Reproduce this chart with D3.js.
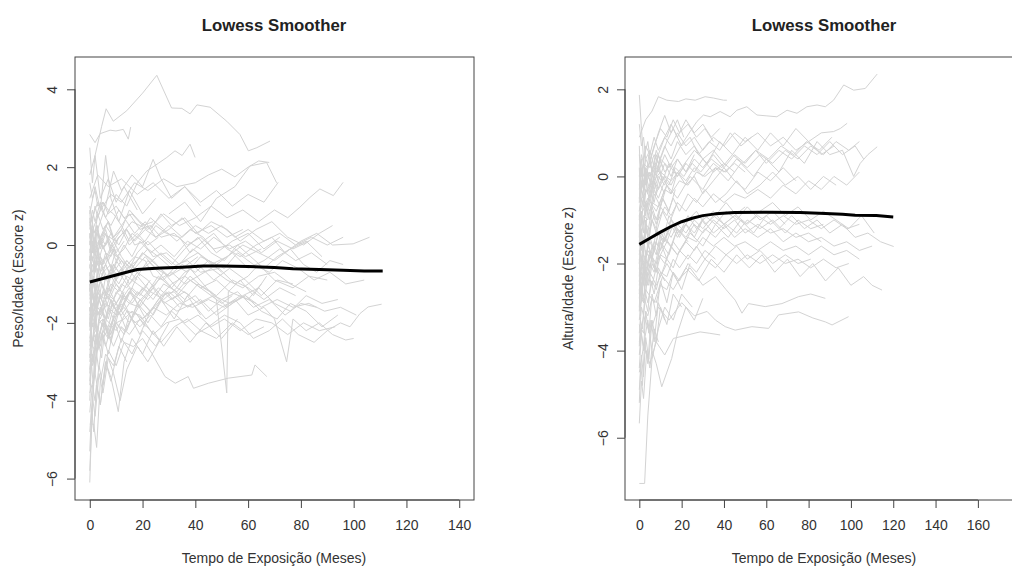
<!DOCTYPE html>
<html><head><meta charset="utf-8">
<script src="https://cdn.jsdelivr.net/npm/d3@7"></script>
<style>
html,body{margin:0;padding:0;background:#fff;}
svg{display:block;font-family:"Liberation Sans",Arial,sans-serif;}
</style></head>
<body>
<svg id="chart" width="1012" height="567"></svg>
<script>
// ---------- DATA ----------
// Each subject: flat list [month, z, month, z, ...]
const pesoSubjects = [
[0,1.8,2,2.3,4.5,3.05,6.2,3.5,8.9,3.18,14,3.45,20,3.9,25.4,4.36,31,3.52,34.9,3.51,38,3.37,40.6,3.6,45.6,3.54,51.9,3.18,56.9,2.84,60.1,2.42,63.3,2.5,68.3,2.67],
[0,2.84,2,2.63,3.9,2.86,7.7,2.95,9.9,2.93,12.7,2.97,14.6,2.72,15.5,3.03],
[0,0.5,3,1.1,6,0.7,10,1.3,14,1.0,18,1.6,21.6,1.9,26,2.1,29.2,2.25,32.3,2.42,35,2.3,38,2.59,39.9,2.25],
[0,0.2,4,0.9,8,1.3,12,1.1,17,1.6,22,1.4,28,1.7,33,1.5,40,1.6,45,1.8,50,1.95,55,1.75,60,2.0,64,2.16,68,2.12],
[0,-0.3,5,0.3,10,0.1,16,0.6,22,0.4,28,0.8,34,0.5,40,0.7,46,1.0,52,0.7,58,0.9,64,0.6,70,0.9,75,0.7,79.6,0.97,83.4,1.22,87.2,1.44,92.3,1.27,96,1.61],
[0,2.5,1,1.6,2,2.3,4,1.2,7,1.7,10,1.1,13,1.5,18,0.9],
[0,0.8,2,1.5,4,0.9,6,2.3,8,1.2,11,0.6,15,1.4,20,0.8,25,1.2],
[0,-0.4,3,0.4,6,1.0,9,1.9,12,1.4,16,1.8,20,1.5,24,2.2,27,1.7,31,1.2,36,1.5,42,1.0],
[0,1.2,3,1.8,7,1.5,12,1.7,18,1.3,24,1.6,30,1.2,36,1.5,42,1.1,48,1.4,54,1.0,60,1.3,66,1.1,71.4,1.61],
[30,0.8,36,1.1,42,0.6,48,1.2,55,1.5,60.7,2.03,67,2.12,70.8,1.6],
[0,-0.5,1,-1.1,2.5,-0.4,4,0.1,6,-0.2,8,-0.3,11,0.2,14,0.4,17,0.0,21,0.1,25,0.5,29,0.3,34,0.2,38,-0.2,43,0.1,47,0.3,52,-0.1,57,-0.3,63,0.0,69,0.2,74,-0.2,80,0.1,86,0.3,92,0.0,99.8,0.03,106,0.2],
[0,-1.5,1.5,-1.0,3,-1.2,5,-0.7,8,-0.5,10,-0.9,13,-0.6,17,-0.3,21,-0.4,24,-0.8,28,-0.9,33,-0.5,37,-0.4,42,-0.7,49,-0.6,55,-1.0,60,-0.8,64,-0.5,70,-0.9,77,-1.1,83,-0.8,90,-0.9],
[0,-2.5,1,-1.9,2,-1.6,4,-1.8,6,-1.2,9,-1.4,12,-1.0,14,-1.1,18,-0.7,22,-0.9,27,-1.3,31,-1.0,36,-0.8,42,-1.1,48,-0.9,53,-1.2,60,-1.4,65,-1.0],
[0,-3.2,1,-2.6,2,-2.7,3.5,-2.0,5,-1.9,7,-2.3,10,-1.6,13,-1.5,16,-1.9,20,-1.4,24,-1.1,28,-1.5,33,-1.3,38,-0.9,44,-1.2,50,-1.5,54,-1.3],
[0,0.6,1,0.3,3,0.4,5,-0.1,7,0.1,10,-0.3,13,-0.1,16,0.3,20,0.1,24,-0.3,29,-0.2,34,-0.5,39,-0.1,45,-0.4,51,-0.6,56,-0.2,62,-0.5,68,-0.7,73,-0.4,79,-0.6,85,-0.9,91,-0.7,97,-1.0,104,-0.9],
[0,-1.0,2,-1.6,3.5,-1.4,6,-1.9,9,-1.5,12,-1.6,15,-1.2,19,-1.4,23,-1.7,27,-1.3,32,-1.2,37,-1.6,42,-1.4,48,-1.8,54,-1.5,59,-1.3,65,-1.7,71,-1.9,76,-1.5,82,-1.7,88,-2.1,94,-1.8],
[0,-5.8,0.8,-4.5,1.6,-3.2,3,-2.5,5,-1.9,8,-2.3,11,-1.6,15,-2.0,19,-1.4,24,-1.8,29,-1.2,34,-1.6],
[0,-6.1,0.5,-5.0,1.2,-3.8,2.5,-2.9,4,-2.2,6,-2.6,9,-1.9,13,-2.3,17,-1.7,21,-2.1],
[0,-4.6,1.5,-4.6,2.6,-5.2,4,-3.5,6,-2.8,9,-3.1,12,-2.4,16,-2.8,20,-2.2,25,-2.6,30,-2.0],
[0,-3.8,2,-3.3,4,-4.1,6,-3.0,8,-3.4,10.8,-4.28,13,-3.0,16,-2.4,20,-2.8,24,-2.2,28,-2.6,33,-2.1,38,-2.5,44,-2.0,50,-2.4,56,-1.9],
[0,-4.3,1,-3.6,2,-4.0,3.5,-3.1,5,-3.6,7,-2.7,10,-3.1,13,-2.5,16.5,-2.61,20,-2.4,23.5,-2.78,28.5,-3.38,32.4,-3.55,37.3,-3.38,39.3,-3.68,45,-3.55,52.5,-3.42,61.4,-3.34,62.6,-3.08,67.1,-3.38],
[0,-1.8,3,-1.2,6,-1.6,10,-1.0,14,-1.4,18,-0.8,23,-1.2,28,-0.7,33,-1.1,38,-0.6,43,-1.0,48,-1.4,51.9,-3.8,52.5,-1.2,57,-0.9,62,-1.3,67,-0.8],
[0,-2.0,3,-1.6,6,-1.9,10,-2.2,14,-1.7,19,-1.8,24,-2.3,29,-2.0,34,-1.9,40,-2.3,45,-2.1,51,-1.8,57,-2.0,62,-2.4,68,-2.2,73,-1.9,79,-2.3,85,-2.5,90,-2.2,95,-2.0,98.6,-2.1,102.4,-1.76,105.5,-1.59,110.6,-1.52],
[0,-2.7,2,-2.2,5,-2.4,9,-1.9,13,-1.6,17,-2.0,22,-1.8,27,-1.4,33,-1.7,39,-1.5,44,-1.9,50,-1.6,55,-1.4,60,-1.8,66,-1.6,70,-1.9,74.6,-3.0,77,-1.9,82,-2.2,87,-2.0,92,-2.3,97,-2.44,100,-2.4],
[0,-0.2,1,0.3,2,-0.3,4,0.2,6,0.5,9,0.2,12,0.4,15,0.9,19,0.6,23,0.4,27,0.8,31,0.5,36,0.7,41,0.3,46,0.6,52,0.4,57,0.1,63,0.4,69,0.6,75,0.2,81,0.0,87,0.3,92,0.5],
[0,0.3,1,-0.2,2.5,0.0,4,-0.5,6,-0.3,9,-0.7,12,-0.4,16,-0.6,20,-0.2,25,-0.5,30,-0.8,35,-0.6,41,-0.3],
[0,-1.3,1,-0.9,2,-1.2,4,-0.7,6,-0.9,9,-0.5,12,-0.8,16,-0.6,20,-0.2,24,-0.4,28,-0.7],
[0,-2.2,1,-1.6,2,-1.8,4,-1.3,6,-1.4,8,-1.0,11,-1.2,14,-0.8,18,-1.0,22,-1.2,26,-0.9,31,-0.7,36,-1.0,41,-0.8,46,-0.6,52,-0.9,58,-1.1,64,-0.8,70,-0.7,76,-1.0,82,-1.2],
[0,0.1,1,-0.4,2,-0.2,4,-0.7,6,-0.5,8,-0.8,11,-0.3,14,-0.6,18,-0.4,22,-0.1,26,-0.3,31,-0.6,36,-0.4,41,-0.2,46,-0.5,52,-0.3,58,0.0,64,-0.2,70,-0.4,76,-0.1,82,0.1,88,-0.3],
[0,-3.5,0.5,-2.9,1,-3.0,2,-2.4,3,-2.5,5,-2.0,7,-2.1,9,-1.6,12,-1.8,15,-1.5,19,-1.6,23,-1.2,28,-1.4,33,-1.1,38,-1.3],
[0,-2.8,1,-3.1,2,-2.6,3,-2.7,5,-2.2,7,-2.4,10,-2.0,13,-1.9,16,-1.7,20,-1.9,24,-1.6,29,-1.8,34,-1.5,39,-1.6,45,-1.4,51,-1.6,57,-1.3,63,-1.5],
[0,1.0,1,0.6,2,1.0,3,0.7,5,1.1,7,0.9,9,0.8,12,0.5,15,0.8,19,0.4,23,0.5,27,0.2,32,0.3,37,0.0,42,0.2,47,-0.1,53,0.0,59,-0.3,65,-0.1],
[0,1.6,1,1.2,2,1.4,3,1.0,5,1.1,7,0.8,10,1.0,13,0.7,16,0.8,20,0.5,24,0.6],
[0,-0.8,1,-0.3,2,-0.7,3,-0.1,5,-0.5,7,-0.2,9,0.1,12,-0.3,15,-0.6,18,-0.2,22,0.1,26,-0.2,31,-0.5,36,-0.1,41,0.2,46,-0.2,51,-0.4,56,0.0,61,-0.3,66,-0.6,71,-0.3,76,-0.1,81,-0.5,86,-0.7,91,-0.4,96,-0.5],
[0,-1.9,1,-1.2,2,-1.4,3,-0.8,5,-1.1,7,-1.4,9,-0.9,12,-0.6,15,-1.0,18,-0.8,22,-0.4,26,-0.7,31,-1.1,36,-0.7,41,-0.5,47,-0.9,53,-0.6,59,-0.9,65,-1.3,71,-0.9,77,-1.0],
[0,-4.0,0.6,-3.0,1.3,-3.6,2.2,-2.6,3.4,-3.2,5,-2.3,7,-2.8,9.5,-2.0,12,-2.5,15,-1.8,19,-2.3,23,-1.7],
[0,-5.3,0.7,-4.2,1.5,-4.8,2.5,-3.6,4,-4.1,6,-3.0,8,-3.5,11,-2.6,14,-3.0],
[0,-4.8,1,-3.9,2,-4.4,3.5,-3.3,5,-3.8,7,-2.9,9,-3.3,11.5,-4.0,14,-3.2,18,-2.6,22,-3.0,27,-2.4],
[0,-2.4,1,-1.8,2,-2.1,3,-1.5,5,-1.2,7,-1.6,9,-1.9,12,-1.4,15,-1.1,18,-1.5,22,-1.2,26,-0.8,31,-1.1,36,-1.4,41,-1.0,46,-1.2,52,-1.6,58,-1.3,64,-1.1,70,-1.5,76,-1.7,82,-1.3,88,-1.5,94,-1.4],
[0,-0.6,1,0.0,2,0.2,3,-0.2,5,0.3,7,0.6,9,0.1,12,0.4,15,0.0,19,0.3,23,0.7,28,0.4,33,0.1,38,0.4,43,0.2,48,-0.2,54,0.1,60,0.3,66,-0.1,72,0.2],
[0,0.4,1,0.9,2,0.6,4,1.1,6,0.7,8,0.5,11,0.9,14,0.6,17,0.3,21,0.6,25,0.2,30,0.4,35,0.7,40,0.3,46,0.5,52,0.2,58,0.4],
[0,-1.1,1,-1.6,2,-1.3,3,-1.8,5,-1.5,7,-1.9,9,-1.4,12,-1.7,15,-1.2,18,-1.5,22,-1.8,26,-1.4,30,-1.2,35,-1.5,40,-1.3,45,-1.7,50,-1.4,56,-1.2,62,-1.6,68,-1.4,74,-1.8,80,-1.5,86,-1.6],
[0,-0.1,2,-0.6,4,-0.4,6,-0.9,8,-0.6,11,-0.8,14,-0.4,18,-0.7,22,-0.5,27,-0.2,32,-0.5,37,-0.7,42,-0.3,48,-0.5,54,-0.2,60,-0.6,66,-0.4,72,-0.1,78,-0.4,84,-0.2,90,-0.5],
[0,-3.0,1,-2.4,2,-2.5,3.5,-1.9,5,-2.1,7,-1.6,10,-1.8,13,-1.3,16,-1.5,20,-1.1,24,-1.4,28,-1.0,33,-1.2,38,-0.8,43,-1.1,48,-1.3,54,-0.9,60,-1.1,66,-1.4,72,-1.1,78,-1.3],
[0,-1.6,1,-2.1,2,-1.9,3,-2.4,5,-2.0,7,-2.3,9,-2.6,12,-2.1,15,-2.3,19,-1.9,23,-2.2,27,-2.5,32,-2.1,37,-1.9,42,-2.2,48,-2.4,54,-2.0,60,-2.3,66,-2.1],
[0,-0.9,1,-0.5,2,-0.7,3,-0.3,5,-0.6,7,-0.9,9,-0.5,11,-0.7,14,-0.4,17,-0.6,21,-0.3,25,-0.6,30,-0.8,35,-0.5,40,-0.7,45,-0.4,50,-0.7],
[0,0.0,1,0.5,2,0.3,3,0.8,5,0.4,7,0.6,9,0.2,12,0.5,15,0.1,18,0.3,22,0.0,26,0.2],
[0,-1.4,1,-0.9,2,-1.1,3,-0.6,4,-0.9,6,-0.5,8,-0.8,10,-0.4,13,-0.7,16,-0.5,19,-0.8],
[0,-2.0,1,-2.5,2,-2.3,3,-2.7,4,-2.4,6,-2.1,8,-2.4,10,-2.0,13,-2.2,16,-1.9,19,-2.1,23,-1.8,27,-2.1,31,-1.7,36,-2.0,41,-1.8,46,-2.1,51,-1.9,57,-2.2,63,-1.9,69,-2.0,75,-2.3,81,-2.0,87,-2.2,93,-2.1],
[0,-0.3,1,-0.7,2,-0.4,3,-0.8,4,-0.3,6,-0.5,8,-0.1,10,-0.4,13,0.0,16,-0.3,19,0.1,23,-0.2,27,0.0,32,-0.3,37,0.1,42,-0.1,47,0.2,53,-0.1,59,0.1,65,-0.2,71,0.1,77,-0.1,83,0.1],
[0,-2.6,1,-2.0,2,-2.2,3,-1.7,4,-1.9,6,-1.5,8,-1.6,10,-1.2,13,-1.4,16,-1.1,19,-1.3,22,-1.0],
[0,-1.7,1,-1.3,2,-1.6,3,-1.2,5,-1.5,7,-1.3,9,-1.6,12,-1.3,15,-1.5,18,-1.2,22,-1.4,26,-1.1,31,-1.4,36,-1.2,41,-1.5,47,-1.3,53,-1.5,59,-1.3,65,-1.6,71,-1.4,77,-1.6,83,-1.5,89,-1.7,95,-1.6,101,-1.8],
[0,0.2,2,-0.2,4,0.2,6,0.0,8,0.3,11,0.0,14,0.4,17,0.1,21,0.4,25,0.2,30,0.5,35,0.2,40,0.5,45,0.3,50,0.5,55,0.2,60,0.4,66,0.1,72,0.3,78,0.0,84,0.2,90,0.0,96,0.2],
[0,-3.6,1,-2.8,2,-3.3,3,-2.4,4.5,-2.9,6,-2.0,8,-2.5,11,-1.7,14,-2.2,18,-1.5,22,-2.0,27,-1.4,32,-1.9,37,-1.3,42,-1.8],
[0,-1.2,0.5,-0.6,1,-0.9,2,-0.3,3,-0.5,5,0.0,7,-0.4,9,-0.1,12,-0.5],
[0,-0.7,0.5,-1.3,1.5,-0.8,2.5,-1.4,4,-0.9,6,-1.2,8,-0.7,11,-1.0,14,-0.6,18,-0.9],
[0,-2.1,0.5,-1.5,1,-1.8,2,-1.1,3,-1.6,4.5,-1.0,6,-1.3,8,-0.8,11,-1.1],
[0,0.7,0.5,0.1,1,0.4,2,-0.2,3,0.3,5,-0.1,7,0.2,10,-0.2,13,0.1],
[0,-1.6,0.5,-2.2,1,-1.5,2,-2.0,3,-1.3,5,-1.7,7,-1.1,10,-1.5,14,-1.0,18,-1.3,23,-0.9],
[0,-0.4,0.5,0.3,1.5,-0.2,2.5,0.5,4,0.0,6,0.4,8,-0.1,11,0.2],
[0,-2.9,0.5,-2.3,1,-2.6,2,-1.9,3,-2.2,4,-1.6,6,-1.9,8,-1.4,10,-1.7,13,-1.2],
[0,-1.0,0.5,-1.6,1,-1.1,2,-1.7,3,-1.0,4.5,-1.4,6,-0.8,8,-1.2,11,-0.7,14,-1.0,17,-0.6],
[0,0.3,0.5,-0.4,1,0.1,2,-0.6,3,-0.1,4,-0.7,6,-0.2,8,-0.6,10,-0.1],
[0,-1.9,1,-2.5,2,-1.8,3,-2.3,4,-1.6,6,-2.0,8,-1.4,11,-1.8,14,-1.3],
[0,-3.3,0.5,-2.7,1.5,-3.0,2.5,-2.3,4,-2.6,5.5,-2.0,7,-2.4,9,-1.9],
[0,0.9,0.5,0.3,1,0.6,2,0.0,3,0.5,4,-0.1,6,0.3,8,-0.2]
];
const pesoLowessMonths = [0,5,10,15,18,22,27,35,43,50,60,70,77,87,96,104,111];
const pesoLowessZ = [-0.95,-0.86,-0.77,-0.68,-0.63,-0.61,-0.59,-0.57,-0.54,-0.54,-0.55,-0.58,-0.61,-0.63,-0.65,-0.67,-0.67];
const pesoXTicks = [0,20,40,60,80,100,120,140];
const pesoYTicks = [-6,-4,-2,0,2,4];

const alturaSubjects = [
[0,-0.5,3,0.1,6,-0.2,10,0.4,14,0.2,19.3,0.68,24,1.03,27.2,1.26,30.3,1.41,33.5,1.37,38.2,1.49,42.9,1.37,46.1,1.52,50.8,1.6,55.6,1.41,60.3,1.39,65,1.37,69.8,1.52,74.5,1.45,79.2,1.6,84,1.64,87.9,1.6,91.8,1.75,96.6,2.1,101.3,1.98,106.8,2.02,112.4,2.35],
[0,1.87,1,1.1,2,0.4,4,0.8,6,0.1,8,0.5,11,-0.1,14,0.3],
[0,0.9,3,1.3,6,1.5,9,1.83,13,1.75,18.5,1.72,22,1.78,26.4,1.75,31.1,1.83,35,1.8,39.8,1.75,41.4,1.75],
[0,-0.2,2,0.3,4,0.2,7,0.7,10,1.1,13,0.9,16,1.3,19,1.0,23,1.2,27,0.9,31,1.1,35,0.8],
[0,-1.0,4,-0.5,8,-0.8,13,-0.2,18,-0.5,24,0.0,30,-0.3,36,0.2,42,-0.1,48,0.3,54,0.0,60,0.4,66,0.1,72,0.6,78,0.3,84,0.8,90,0.5,96,0.6,101.3,0.0,104.4,0.3,108,0.5,112.4,0.68],
[0,-0.6,5,-0.2,10,0.1,15,-0.1,20,0.2,26,0.6,32,0.3,38,0.8,44,0.5,50,0.9,56,0.6,62,1.0,68,0.7,74,1.1,80,0.8,86,1.0,91.8,1.03,95,1.1,98.2,1.22],
[0,-2.2,4,-1.7,8,-2.0,13,-1.5,18,-1.8,24,-1.3,30,-1.6,36,-1.1,42,-1.4,48,-1.0,54,-1.3,60,-0.9,66,-1.2,72,-0.9,78,-1.2,84,-1.0,90,-1.3,96,-1.1,102,-1.4,108,-1.3,114,-1.5,120.2,-1.61],
[0,-3.0,3,-2.6,7,-2.9,11,-2.3,16,-2.6,22,-2.1,28,-2.4,34,-1.9,40,-2.2,46,-1.8,52,-2.1,58,-1.8,64,-2.2,70,-1.9,76,-2.3,82,-2.0,88,-2.4,94,-2.1,100,-2.5,106,-2.3,110,-2.5,114.7,-2.61],
[0,-3.8,2,-3.2,5,-3.6,9,-3.0,14,-3.3,20,-2.9,26,-3.2,32,-3.1,36,-3.3,40.6,-3.45,45.3,-3.53,53.2,-3.45,61.1,-3.49,65.8,-3.18,75.3,-3.11,82,-3.25,87.9,-3.34,91.1,-3.41,98.9,-3.22],
[0,-4.5,2,-3.9,5,-4.3,8,-3.8,12,-4.1,16.1,-3.72,22,-3.65,28.7,-3.57,33,-3.6,38.2,-3.64],
[0,-2.6,4,-2.1,8,-2.5,13,-2.0,18,-2.4,24,-2.1,30,-2.5,36,-2.3,41,-2.6,45.3,-2.84,48.5,-3.14,51.6,-2.92,59.5,-2.99,67.4,-2.92,75.3,-2.76,81,-2.7,87.9,-2.8],
[0,-7.05,2.5,-7.05,4,-5.5,6,-4.2,9,-3.5,12,-3.0,16,-3.3,20,-2.7,25,-3.0],
[0,-5.67,1,-4.7,2,-5.1,3.5,-4.0,5,-4.4,7,-3.5,9,-3.8],
[0,-3.4,2,-3.9,4,-3.3,6,-4.0,8,-4.3,10.6,-4.83,15.3,-4.18,18,-3.6,22,-3.0,26,-3.3,30,-2.8],
[0,-4.9,1,-4.1,2,-4.6,3,-3.7,4.5,-4.2,6,-3.3,8,-3.8,10,-3.0,13,-3.4,16,-2.7,20,-3.0],
[0,-1.5,1,-0.9,2,-1.1,3,-0.6,5,-0.8,7,-0.3,9,-0.5,12,-0.1,15,-0.4,18,0.1,22,-0.2,26,0.0,30,-0.4,35,-0.1,40,0.2,45,-0.1,50,-0.3,56,0.1,62,-0.1,68,0.2,74,-0.1],
[0,-2.0,1,-1.6,2,-1.7,3,-1.2,4,-1.4,6,-1.0,8,-1.2,10,-0.7,13,-0.9,16,-0.5,19,-0.8,23,-0.4,27,-0.6,31,-0.3,36,-0.6,41,-0.4,46,-0.1,51,-0.4,57,-0.2,63,0.1,69,-0.2,75,0.0,81,-0.3,87,0.0,93,-0.2],
[0,-2.8,1,-2.3,2,-2.5,3,-1.9,4,-2.1,6,-1.6,8,-1.8,10,-1.3,13,-1.5,16,-1.1,19,-1.3,23,-0.9,27,-1.2,31,-0.9,36,-1.1,41,-0.8,46,-1.0,51,-0.7,57,-1.0,63,-0.8,69,-1.1],
[0,-0.8,1,-0.3,2,-0.5,3,0.0,5,-0.3,7,0.2,9,-0.1,12,0.3,15,0.0,18,0.4,22,0.1,26,0.4,30,0.2,35,0.5,40,0.2,45,0.5,50,0.3,55,0.6,60,0.3,66,0.6,72,0.4,78,0.7,84,0.5,90,0.8,96,0.5,102,0.7,106,0.4],
[0,-3.3,1,-2.8,2,-2.9,3,-2.4,4.5,-2.5,6,-2.0,8,-2.2,10,-1.8,13,-1.9,16,-1.5,19,-1.7,23,-1.4,27,-1.5,31,-1.2,36,-1.4,41,-1.1,46,-1.3,51,-1.0,57,-1.2,63,-1.0,69,-1.3,75,-1.0,81,-1.2,87,-1.1],
[0,0.5,1,0.0,2,0.3,3,-0.2,5,0.1,7,-0.3,9,0.0,12,-0.2,15,0.2,18,0.0,22,0.3,26,0.1,30,0.4,35,0.1,40,0.3,45,0.1],
[0,-1.2,1,-1.7,2,-1.4,3,-1.8,5,-1.5,7,-1.7,9,-1.3,12,-1.5,15,-1.1,18,-1.4,22,-1.1,26,-1.3,30,-1.0,35,-1.3,40,-1.1,45,-1.4,50,-1.2,56,-1.4,62,-1.2,68,-1.5,74,-1.3,80,-1.5,86,-1.4,92,-1.6,98,-1.5,104,-1.7,110,-1.6],
[0,-2.4,1,-2.8,2,-2.4,3,-2.7,4,-2.2,6,-2.5,8,-2.1,10,-2.3,13,-1.9,16,-2.1,19,-1.7,23,-1.9,27,-1.6,31,-1.9,36,-1.6,41,-1.8,46,-1.6,51,-1.9,57,-1.7,63,-2.0,69,-1.8,75,-2.0,81,-1.9],
[0,-0.3,1,0.2,2,0.0,3,0.4,5,0.2,7,0.5,9,0.3,12,0.7,15,0.4,18,0.8,22,0.5,26,0.7,30,0.4,35,0.6,40,0.3],
[0,-1.8,1,-1.3,2,-1.5,3,-1.1,5,-1.2,7,-0.9,9,-1.0,12,-0.7,15,-0.9,18,-0.6,22,-0.8,26,-0.5,30,-0.7,35,-0.4,40,-0.6,45,-0.4,50,-0.5,56,-0.3,62,-0.5,68,-0.2,74,-0.4,80,-0.1,86,-0.3,92,0.0,98,-0.2,104,0.1],
[0,-4.1,1,-3.5,2,-3.6,3,-3.1,4,-3.2,6,-2.8,8,-2.9,10,-2.5,13,-2.6,16,-2.2,19,-2.4,23,-2.0,27,-2.2,31,-1.9,36,-2.1,41,-1.8,46,-2.0,51,-1.8,57,-2.0,63,-1.8,69,-2.0,75,-1.9,81,-2.1,87,-1.9,93,-2.1,99,-2.0],
[0,-1.0,1,-0.5,2,-0.7,3,-0.3,5,-0.5,7,-0.1,9,-0.3,12,0.0,15,-0.2,18,0.1,22,-0.1,26,0.2,30,0.0,35,0.3,40,0.1,45,0.3,50,0.1],
[0,-2.5,1,-2.0,2,-2.2,3,-1.7,5,-1.9,7,-1.5,9,-1.6,12,-1.2,15,-1.4,18,-1.1,22,-1.3,26,-1.0,30,-1.2,35,-0.9,40,-1.1,45,-0.9,50,-1.1,56,-0.9,62,-1.1,68,-0.9,74,-1.1,80,-1.0,86,-1.2,92,-1.0,98,-1.2,104,-1.1],
[0,0.0,1,0.5,2,0.3,3,0.7,5,0.5,7,0.9,9,0.6,12,0.9,15,0.7,18,1.0,22,0.7,26,0.9,30,0.6,35,0.9,40,0.7,45,1.0,50,0.8,56,1.0,62,0.7,68,0.9,74,0.6,80,0.8,86,0.5,92,0.7],
[0,-3.6,1,-3.0,2,-3.2,3,-2.7,4,-2.9,6,-2.4,8,-2.6,10,-2.2,13,-2.3,16,-1.9,19,-2.1,23,-1.8,27,-2.0,31,-1.7,36,-1.9],
[0,-1.3,2,-0.9,4,-1.0,6,-0.6,9,-0.7,12,-0.3,15,-0.4,19,-0.1,23,-0.2,27,0.1,31,0.0,36,0.2,41,0.1,46,0.4,51,0.2,57,0.5,63,0.3,69,0.6,75,0.4,81,0.7,87,0.5,93,0.8,99,0.6,104,0.8],
[0,-2.1,1,-2.6,2,-2.2,3,-2.5,5,-2.0,7,-2.2,9,-1.8,12,-2.0,15,-1.6,18,-1.8,22,-1.5,26,-1.7,30,-1.4,35,-1.6,40,-1.4,45,-1.6,50,-1.5,56,-1.7,62,-1.5,68,-1.7,74,-1.6,80,-1.8,86,-1.6,92,-1.8,98,-1.7,104,-1.9],
[0,-0.5,1,-0.1,2,-0.3,3,0.2,5,0.0,7,0.3,9,0.1,12,0.5,15,0.2,18,0.4,22,0.1,26,0.5],
[0,-4.4,1,-3.6,2,-4.0,3,-3.1,4.5,-3.6,6,-2.7,8,-3.2,10,-2.4,13,-2.9,16,-2.2,20,-2.6,24,-2.0],
[0,-3.0,0.5,-2.5,1,-2.6,2,-2.0,3,-2.2,4.5,-1.8,6,-1.9,8,-1.5,10,-1.7,13,-1.3,16,-1.1,19,-1.4,23,-1.0,27,-0.8,31,-1.1,36,-0.9,41,-0.6,46,-0.9,51,-1.1,57,-0.8,63,-0.6,69,-0.9,75,-0.7,81,-1.0,87,-0.8,93,-1.0,99,-1.2,105,-0.9,111,-1.3],
[0,-1.7,1,-2.1,2,-1.8,3,-1.9,5,-1.4,7,-1.7,9,-1.3,12,-1.5,15,-1.0,18,-1.3,22,-1.1,26,-1.4,30,-1.0,35,-0.8,40,-1.1,45,-0.9,50,-0.7],
[0,1.2,1,0.7,2,0.9,3,0.4,5,0.6,7,0.2,9,0.5,12,0.1,15,0.3,18,0.0,22,0.3],
[0,-0.9,2,-0.5,4,-0.7,6,-0.3,8,-0.4,11,0.0,14,-0.2,17,0.2,21,0.0,25,0.3,29,0.1,34,0.4,39,0.2,44,0.5,49,0.3,55,0.6,61,0.4,67,0.7,73,0.5,79,0.8,85,0.6,91,0.9],
[0,-2.7,1,-2.2,2,-2.4,3,-1.9,5,-2.1,7,-1.6,9,-1.8,12,-1.4,15,-1.6,18,-1.2,22,-1.4,26,-1.1,30,-1.3,35,-1.0,40,-1.2,45,-1.0,50,-1.3,56,-1.1,62,-1.3,68,-1.2,74,-1.4,80,-1.3,86,-1.5],
[0,-5.2,0.7,-4.3,1.5,-4.8,2.5,-3.8,4,-4.3,5.5,-3.3,7,-3.8,9,-2.9,12,-3.3],
[0,-1.6,3,-0.8,6,-0.2,9,0.5,12,0.9,15,1.2,18,0.9,22,1.3,26,1.0,30,1.2,34,0.9,38,1.1],
[0,-2.4,2,-1.5,4,-0.8,7,-0.2,10,0.4,13,0.8,16,1.1,20,0.7,24,0.9,28,0.5,33,0.8,38,0.6,43,1.0,48,0.7,53,0.9],
[0,-0.8,3,0.0,6,0.5,9,1.0,12,1.4,15,1.0,18,1.3,21,0.9],
[0,-1.4,0.5,-0.8,1,-1.1,2,-0.5,3,-0.9,5,-0.3,7,-0.6,9,-0.1,12,-0.4],
[0,-2.3,0.5,-1.7,1.5,-2.0,2.5,-1.3,4,-1.6,6,-1.0,8,-1.3,11,-0.8,14,-1.1,18,-0.6],
[0,-0.6,0.5,0.1,1,-0.3,2,0.4,3,-0.1,4.5,0.5,6,0.1,8,0.6,11,0.2],
[0,-3.1,0.5,-2.5,1,-2.8,2,-2.0,3,-2.4,5,-1.7,7,-2.1,10,-1.5,14,-1.8,18,-1.2,23,-1.5],
[0,-1.9,0.5,-2.5,1.5,-1.8,2.5,-2.3,4,-1.5,6,-1.9,8,-1.2,11,-1.5,14,-0.9,18,-1.2],
[0,0.2,0.5,-0.5,1.5,0.0,2.5,-0.6,4,0.1,6,-0.3,8,0.3,11,-0.1],
[0,-2.6,0.5,-3.2,1,-2.5,2,-2.9,3,-2.1,4,-2.5,6,-1.8,8,-2.2,10,-1.5,13,-1.9],
[0,-1.1,0.5,-1.7,1,-1.2,2,-1.8,3,-1.1,4.5,-1.5,6,-0.8,8,-1.1,11,-0.5,14,-0.8,17,-0.3],
[0,-3.9,0.5,-3.3,1.5,-3.5,2.5,-2.8,4,-3.1,5.5,-2.4,7,-2.7,9,-2.1,12,-2.4],
[0,0.7,0.5,0.0,1,0.4,2,-0.3,3,0.2,4,-0.4,6,0.1,8,-0.3],
[0,-2.0,1,-1.4,2,-1.6,3,-1.0,4,-1.3,6,-0.7,8,-1.0,11,-0.5,14,-0.8],
[0,-0.9,0.5,-1.5,1,-0.8,2,-1.3,3,-0.6,5,-1.0,7,-0.4,10,-0.7,13,-0.2]
];
const alturaLowessMonths = [0,5,10,15,20,25,30,36,45,60,76,88,96,102,112,120];
const alturaLowessZ = [-1.56,-1.42,-1.28,-1.15,-1.04,-0.96,-0.90,-0.86,-0.83,-0.82,-0.83,-0.85,-0.87,-0.89,-0.90,-0.93];
const alturaXTicks = [0,20,40,60,80,100,120,140,160];
const alturaYTicks = [-6,-4,-2,0,2];

// ---------- DRAW ----------
const svg = d3.select("#chart");
const toPairs = flat => d3.range(0, flat.length, 2).map(i => [flat[i], flat[i+1]]);

function panel(cfg) {
  const x = d3.scaleLinear().domain(cfg.xDomain).range([cfg.left, cfg.right]);
  const y = d3.scaleLinear().domain(cfg.yDomain).range([cfg.bottom, cfg.top]);
  const clipId = "clip" + cfg.id;
  svg.append("clipPath").attr("id", clipId).append("rect")
    .attr("x", cfg.left).attr("y", cfg.top)
    .attr("width", cfg.right - cfg.left).attr("height", cfg.bottom - cfg.top);
  const line = d3.line().x(d => x(d[0])).y(d => y(d[1]));
  const g = svg.append("g").attr("clip-path", `url(#${clipId})`);
  g.selectAll("path.subj").data(cfg.subjects.map(toPairs)).join("path")
    .attr("class", "subj").attr("d", line)
    .attr("fill", "none").attr("stroke", "#d3d3d3").attr("stroke-width", 1);
  g.append("path").datum(cfg.lowM.map((m, i) => [m, cfg.lowZ[i]]))
    .attr("d", line).attr("fill", "none").attr("stroke", "#000")
    .attr("stroke-width", 3).attr("stroke-linejoin", "round");

  // box
  svg.append("rect").attr("x", cfg.left).attr("y", cfg.top)
    .attr("width", cfg.right - cfg.left).attr("height", cfg.bottom - cfg.top)
    .attr("fill", "none").attr("stroke", "#444").attr("stroke-width", 1);

  // x axis
  const xa = d3.axisBottom(x).tickValues(cfg.xTicks).tickSize(8).tickPadding(12).tickFormat(d3.format("d"));
  const gx = svg.append("g").attr("transform", `translate(0,${cfg.bottom})`).call(xa);
  gx.select(".domain").attr("d", `M${x(cfg.xTicks[0])},0H${x(cfg.xTicks[cfg.xTicks.length-1])}`).attr("stroke", "#444");
  gx.selectAll(".tick line").attr("stroke", "#444");
  gx.selectAll("text").attr("font-size", 14).attr("fill", "#333")
    .attr("font-family", "Liberation Sans, Arial, sans-serif");

  // y axis
  const ya = d3.axisLeft(y).tickValues(cfg.yTicks).tickSize(8).tickFormat(d3.format("d"));
  const gy = svg.append("g").attr("transform", `translate(${cfg.left},0)`).call(ya);
  gy.select(".domain").attr("d", `M0,${y(cfg.yTicks[0])}V${y(cfg.yTicks[cfg.yTicks.length-1])}`).attr("stroke", "#444");
  gy.selectAll(".tick line").attr("stroke", "#444");
  gy.selectAll("text").attr("font-size", 14).attr("fill", "#333")
    .attr("font-family", "Liberation Sans, Arial, sans-serif")
    .attr("x", null)
    .attr("text-anchor", "middle")
    .attr("transform", `translate(${cfg.yLabX - cfg.left},0) rotate(-90)`)
    .attr("dy", "0.35em");

  // titles
  svg.append("text").attr("x", cfg.titleX).attr("y", 31)
    .attr("text-anchor", "middle").attr("font-weight", "bold").attr("font-size", 16.8)
    .attr("fill", "#222").text(cfg.title);
  svg.append("text").attr("x", cfg.xTitleX).attr("y", 563)
    .attr("text-anchor", "middle").attr("font-size", 14).attr("fill", "#333").text(cfg.xTitle);
  svg.append("text")
    .attr("transform", `translate(${cfg.yTitleX},${(cfg.top + cfg.bottom) / 2}) rotate(-90)`)
    .attr("text-anchor", "middle").attr("dy", "0.35em").attr("font-size", 14).attr("fill", "#333")
    .text(cfg.yTitle);
}

panel({
  id: "peso", subjects: pesoSubjects, lowM: pesoLowessMonths, lowZ: pesoLowessZ,
  xTicks: pesoXTicks, yTicks: pesoYTicks,
  xDomain: [-5.6, 145.6], yDomain: [-6.55, 4.83],
  left: 75, right: 474, top: 57, bottom: 500,
  yLabX: 52, yTitleX: 18, titleX: 274, xTitleX: 274,
  title: "Lowess Smoother", xTitle: "Tempo de Exposição (Meses)", yTitle: "Peso/Idade (Escore z)"
});
panel({
  id: "altura", subjects: alturaSubjects, lowM: alturaLowessMonths, lowZ: alturaLowessZ,
  xTicks: alturaXTicks, yTicks: alturaYTicks,
  xDomain: [-6.77, 176.6], yDomain: [-7.43, 2.742],
  left: 625, right: 1013, top: 57, bottom: 500,
  yLabX: 603, yTitleX: 568, titleX: 824, xTitleX: 824,
  title: "Lowess Smoother", xTitle: "Tempo de Exposição (Meses)", yTitle: "Altura/Idade (Escore z)"
});
</script>
</body></html>
